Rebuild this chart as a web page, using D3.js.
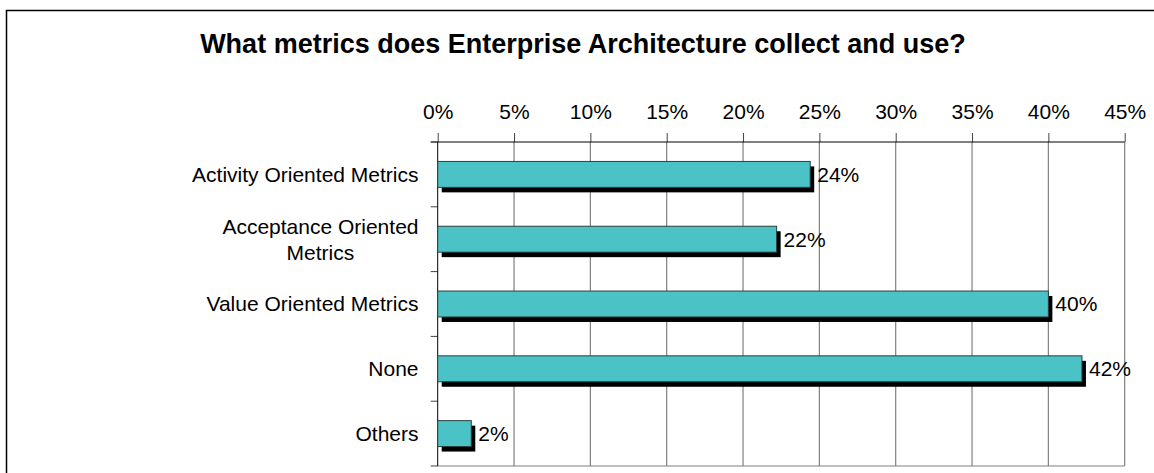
<!DOCTYPE html>
<html>
<head>
<meta charset="utf-8">
<script src="https://cdn.jsdelivr.net/npm/d3@7"></script>
<style>
  body { margin: 0; background: #fff; }
  text { font-family: "Liberation Sans", Arial, sans-serif; fill: #000; }
</style>
</head>
<body>
<svg id="chart"></svg>
<script>
const categories = ["Activity Oriented Metrics", "Acceptance Oriented\nMetrics", "Value Oriented Metrics", "None", "Others"];
const values = [0.244, 0.222, 0.400, 0.422, 0.022];
const tickValues = [0, 0.05, 0.10, 0.15, 0.20, 0.25, 0.30, 0.35, 0.40, 0.45];
const title = "What metrics does Enterprise Architecture collect and use?";

const svgWidth = 1154, svgHeight = 473;
const plotLeft = 437.7, plotRight = 1124.7, plotTop = 142, plotBottom = 466;

const svg = d3.select("#chart")
    .attr("width", svgWidth)
    .attr("height", svgHeight);

// outer frame, right and bottom sides fall outside the picture
svg.append("rect")
    .attr("x", 6.5).attr("y", 10.5)
    .attr("width", 1200).attr("height", 600)
    .attr("fill", "#fff")
    .attr("stroke", "#000")
    .attr("stroke-width", 1.5);

svg.append("text")
    .attr("x", 583)
    .attr("y", 53)
    .attr("text-anchor", "middle")
    .attr("font-size", 27)
    .attr("font-weight", "bold")
    .text(title);

const xScale = d3.scaleLinear()
    .domain([0, 0.45])
    .range([plotLeft, plotRight]);

const yCat = d3.scaleBand()
    .domain(categories)
    .range([plotTop, plotBottom]);

const yBar = d3.scaleBand()
    .domain(categories)
    .range([plotTop, plotBottom])
    .paddingInner(0.6)
    .paddingOuter(0.3);

// vertical grid
svg.append("g")
    .selectAll("line")
    .data(tickValues.slice(1))
    .enter()
    .append("line")
    .attr("x1", d => xScale(d)).attr("x2", d => xScale(d))
    .attr("y1", plotTop).attr("y2", plotBottom)
    .attr("stroke", "#808080")
    .attr("stroke-width", 1.2);

// bottom edge of plot
svg.append("line")
    .attr("x1", plotLeft).attr("x2", plotRight)
    .attr("y1", plotBottom).attr("y2", plotBottom)
    .attr("stroke", "#808080")
    .attr("stroke-width", 1.2);

const x_axis = d3.axisTop(xScale)
    .tickValues(tickValues)
    .tickFormat(d3.format(".0%"))
    .tickSize(9)
    .tickSizeOuter(0)
    .tickPadding(14);

const gx = svg.append("g")
    .attr("transform", "translate(0," + plotTop + ")")
    .call(x_axis);
gx.select(".domain").remove();
gx.selectAll("line").attr("stroke", "#444");
gx.selectAll("text")
    .attr("font-size", 21)
    .attr("font-family", "Liberation Sans, Arial, sans-serif");

// top axis line
svg.append("line")
    .attr("x1", plotLeft - 7).attr("x2", plotRight)
    .attr("y1", plotTop).attr("y2", plotTop)
    .attr("stroke", "#000");

// left axis with ticks at the band edges
const edges = categories.map(c => yCat(c)).concat([plotBottom]);
svg.append("g")
    .selectAll("line")
    .data(edges)
    .enter()
    .append("line")
    .attr("x1", plotLeft - 7).attr("x2", plotLeft)
    .attr("y1", d => d).attr("y2", d => d)
    .attr("stroke", "#444");

svg.append("line")
    .attr("x1", plotLeft).attr("x2", plotLeft)
    .attr("y1", plotTop).attr("y2", plotBottom)
    .attr("stroke", "#000");

// category labels, multi-line ones centered on their own block
const labelRight = 418.5;
categories.forEach(function (c) {
    const lines = c.split("\n");
    const cy = yCat(c) + yCat.bandwidth() / 2;
    const t = svg.append("text")
        .attr("font-size", 21);
    lines.forEach(function (l, i) {
        t.append("tspan")
            .attr("y", cy + (i - (lines.length - 1) / 2) * 26)
            .attr("dy", "0.35em")
            .text(l);
    });
    if (lines.length === 1) {
        t.attr("text-anchor", "end");
        t.selectAll("tspan").attr("x", labelRight);
    } else {
        const w = d3.max(t.selectAll("tspan").nodes(), n => n.getComputedTextLength());
        t.attr("text-anchor", "middle");
        t.selectAll("tspan").attr("x", labelRight - w / 2);
    }
});

// shadows
svg.append("g")
    .selectAll("rect")
    .data(values)
    .enter()
    .append("rect")
    .attr("x", xScale(0) + 4)
    .attr("y", (d, i) => yBar(categories[i]) + 5)
    .attr("width", d => xScale(d) - xScale(0))
    .attr("height", yBar.bandwidth())
    .attr("fill", "#000");

// bars
svg.append("g")
    .selectAll("rect")
    .data(values)
    .enter()
    .append("rect")
    .attr("x", xScale(0))
    .attr("y", (d, i) => yBar(categories[i]))
    .attr("width", d => xScale(d) - xScale(0))
    .attr("height", yBar.bandwidth())
    .attr("fill", "#4bc3c6")
    .attr("stroke", "#2b3f3f")
    .attr("stroke-width", 1);

// value labels
svg.append("g")
    .selectAll("text")
    .data(values)
    .enter()
    .append("text")
    .attr("x", d => xScale(d) + 7)
    .attr("y", (d, i) => yBar(categories[i]) + yBar.bandwidth() / 2)
    .attr("dy", "0.35em")
    .attr("font-size", 21)
    .text(d => d3.format(".0%")(d));
</script>
</body>
</html>
